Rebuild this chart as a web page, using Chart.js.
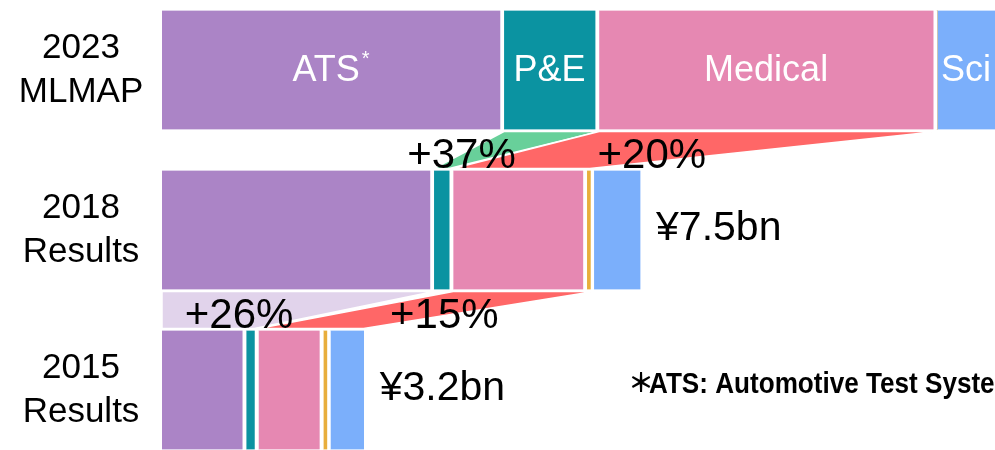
<!DOCTYPE html>
<html>
<head>
<style>
  body { margin: 0; overflow: hidden; background: #fff; }
  #chartBox { position: absolute; left: 0; top: -10px; width: 995px; height: 480px; }
</style>
</head>
<body>
<div id="chartBox"><canvas id="salesChart"></canvas></div>
<script src="https://cdn.jsdelivr.net/npm/chart.js"></script>
<script>
// Sales by business segment (¥bn)
const rows = [['2023', 'MLMAP'], ['2018', 'Results'], ['2015', 'Results']];
const segments = ['ATS', 'P&E', 'Medical', 'Other', 'Sci'];
const ats = [5.32, 4.23, 1.31];
const pe = [1.48, 0.30, 0.19];
const medical = [5.26, 2.08, 1.01];
const other = [0, 0.11, 0.11];
const sci = [1.30, 0.78, 0.58];
const growth = ['+37%', '+20%', '+26%', '+15%'];
const totalShown = [false, true, true];

const series = [ats, pe, medical, other, sci];
const colors = ['#AB84C6', '#0B93A1', '#E688B2', '#E8AE3C', '#7BAFFB'];
const FONT = "'Liberation Sans', Arial, sans-serif";
const LEFT = 162;
const BAR = 119;
const GAP = 4;

// bands joining a run of segments in one row to a run in the row below
const bridges = [
  { row: 0, top: [1, 1], bottom: [1, 1], color: '#68D09A', dx: -35 },
  { row: 0, top: [2, 3], bottom: [2, 3], color: '#FF6767', dx: 7 },
  { row: 1, top: [0, 0], bottom: [0, 1], color: '#E1D3EB', dx: -14 },
  { row: 1, top: [2, 3], bottom: [2, 4], color: '#FF6767', dx: 27 }
];

function cum(row, upto) {
  let s = 0;
  for (let k = 0; k < upto; k++) s += series[k][row];
  return s;
}

function bridgeShape(chart, b) {
  const { x, y } = chart.scales;
  const yt = y.getPixelForValue(b.row) + BAR / 2 + 2;
  const yb = y.getPixelForValue(b.row + 1) - BAR / 2 - 2;
  return {
    yt, yb,
    t0: x.getPixelForValue(cum(b.row, b.top[0])),
    t1: x.getPixelForValue(cum(b.row, b.top[1] + 1)),
    b0: x.getPixelForValue(cum(b.row + 1, b.bottom[0])),
    b1: x.getPixelForValue(cum(b.row + 1, b.bottom[1] + 1)) - GAP
  };
}

const overlay = {
  id: 'overlay',
  beforeDatasetsDraw(chart) {
    const ctx = chart.ctx;
    ctx.save();
    bridges.forEach(b => {
      const p = bridgeShape(chart, b);
      ctx.beginPath();
      ctx.moveTo(p.t0, p.yt);
      ctx.lineTo(p.t1, p.yt);
      ctx.lineTo(p.b1, p.yb);
      ctx.lineTo(p.b0, p.yb);
      ctx.closePath();
      ctx.fillStyle = b.color;
      ctx.fill();
      ctx.strokeStyle = '#fff';
      ctx.lineWidth = 1.5;
      ctx.stroke();
    });
    ctx.restore();
  },
  afterDatasetsDraw(chart) {
    const ctx = chart.ctx;
    const { x, y } = chart.scales;
    const area = chart.chartArea;
    ctx.save();

    // row names on the left
    ctx.fillStyle = '#000';
    ctx.font = '35px ' + FONT;
    ctx.textAlign = 'center';
    ctx.textBaseline = 'middle';
    rows.forEach((r, i) => {
      const yc = y.getPixelForValue(i);
      ctx.fillText(r[0], LEFT / 2, yc - 22);
      ctx.fillText(r[1], LEFT / 2, yc + 22);
    });

    ctx.textBaseline = 'alphabetic';

    // segment names inside the top bar
    const yc0 = y.getPixelForValue(0);
    segments.forEach((name, i) => {
      if (!series[i][0]) return;
      const x0 = x.getPixelForValue(cum(0, i));
      const x1 = Math.min(x.getPixelForValue(cum(0, i + 1)) - GAP, area.right);
      const cx = (x0 + x1) / 2;
      ctx.fillStyle = '#fff';
      ctx.font = '36px ' + FONT;
      const w = ctx.measureText(name).width;
      if (name === 'ATS') {
        ctx.font = '20px ' + FONT;
        const ws = ctx.measureText('*').width;
        const start = cx - (w + ws + 2) / 2;
        ctx.textAlign = 'left';
        ctx.fillText('*', start + w + 2, yc0 - 5);
        ctx.font = '36px ' + FONT;
        ctx.fillText(name, start, yc0 + 11);
      } else {
        ctx.textAlign = 'center';
        ctx.fillText(name, cx, yc0 + 11);
      }
    });

    // totals to the right of the bars
    ctx.fillStyle = '#000';
    ctx.font = '41px ' + FONT;
    ctx.textAlign = 'left';
    rows.forEach((r, i) => {
      if (!totalShown[i]) return;
      const total = cum(i, series.length);
      ctx.fillText('¥' + total.toFixed(1) + 'bn', x.getPixelForValue(total) + 12, y.getPixelForValue(i) + 10);
    });

    // growth rates on the bands
    ctx.font = '42px ' + FONT;
    ctx.textAlign = 'center';
    bridges.forEach((b, i) => {
      const p = bridgeShape(chart, b);
      const mid = (p.t0 + p.t1 + p.b0 + p.b1) / 4 + b.dx;
      ctx.fillText(growth[i], mid, p.yb - 1);
    });

    // footnote: heavy asterisk, then the text squeezed a little horizontally
    const fy = y.getPixelForValue(2) + 3;
    ctx.textAlign = 'left';
    ctx.font = "bold 26px 'Noto Sans CJK JP', sans-serif";
    ctx.fillText('＊', 628, fy - 1);
    ctx.translate(649, fy);
    ctx.scale(0.9, 1);
    ctx.font = 'bold 29px ' + FONT;
    ctx.fillText('ATS: Automotive Test Systems', 0, 0);
    ctx.restore();
  }
};

new Chart(document.getElementById('salesChart'), {
  type: 'bar',
  data: {
    labels: rows.map(r => r.join(' ')),
    datasets: segments.map((name, i) => ({
      label: name,
      data: series[i],
      backgroundColor: colors[i],
      borderColor: '#fff',
      borderWidth: { top: 0, right: GAP, bottom: 0, left: 0 },
      borderSkipped: false,
      barThickness: BAR
    }))
  },
  options: {
    indexAxis: 'y',
    responsive: true,
    maintainAspectRatio: false,
    animation: false,
    layout: { padding: { left: LEFT, right: 0, top: 0, bottom: 0 } },
    plugins: { legend: { display: false }, tooltip: { enabled: false } },
    scales: {
      x: { stacked: true, min: 0, max: 12.96, display: false },
      y: { stacked: true, display: false }
    }
  },
  plugins: [overlay]
});
</script>
</body>
</html>
